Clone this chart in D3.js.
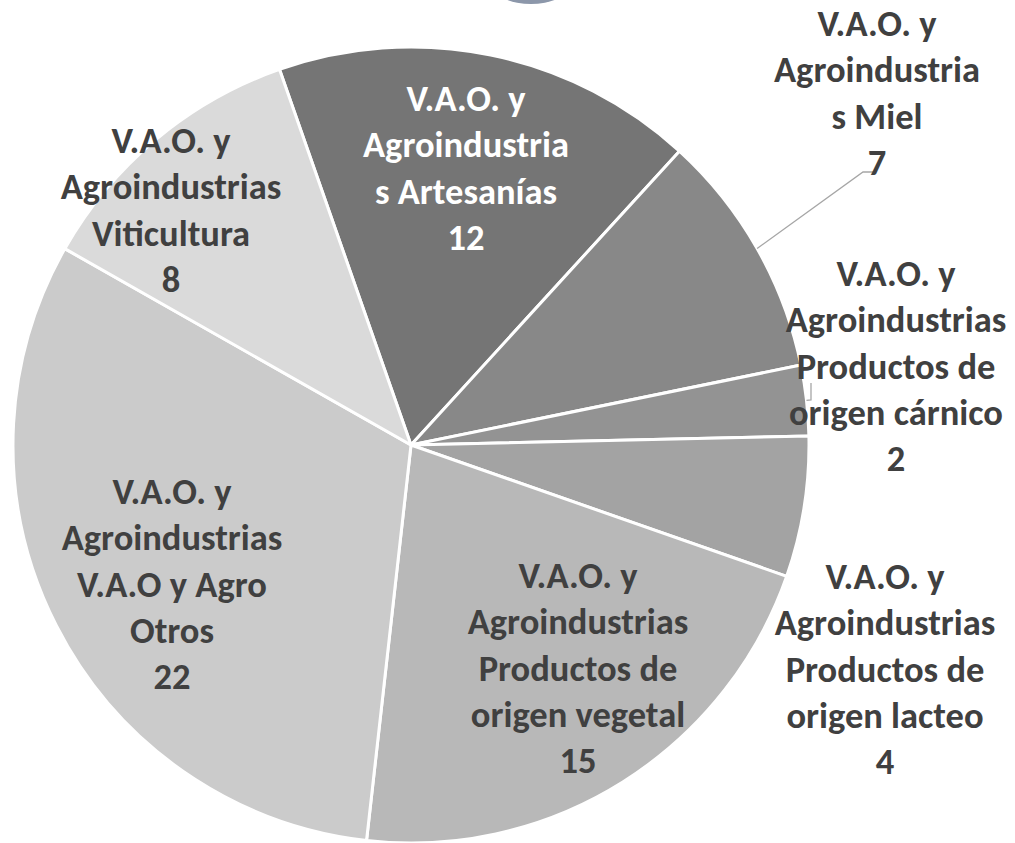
<!DOCTYPE html>
<html>
<head>
<meta charset="utf-8">
<script src="https://cdn.jsdelivr.net/npm/d3@7/dist/d3.min.js"></script>
<style>
  body { margin: 0; background: #fff; }
  svg { display: block; }
  .lbl { font-family: Carlito, Calibri, Lato, sans-serif; font-weight: bold; font-size: 36.5px; }
</style>
</head>
<body>
<svg id="chart" width="1015" height="843"></svg>
<script>
// data
const categories = [
  ["V.A.O. y", "Agroindustria", "s Artesanías"],
  ["V.A.O. y", "Agroindustria", "s Miel"],
  ["V.A.O. y", "Agroindustrias", "Productos de", "origen cárnico"],
  ["V.A.O. y", "Agroindustrias", "Productos de", "origen lacteo"],
  ["V.A.O. y", "Agroindustrias", "Productos de", "origen vegetal"],
  ["V.A.O. y", "Agroindustrias", "V.A.O y Agro", "Otros"],
  ["V.A.O. y", "Agroindustrias", "Viticultura"]
];
const values = [12, 7, 2, 4, 15, 22, 8];
const colors = ["#757575", "#888888", "#939393", "#a3a3a3", "#b8b8b8", "#cbcbcb", "#dadada"];
const textColors = ["#ffffff", "#404040", "#404040", "#404040", "#404040", "#404040", "#404040"];
// first-baseline anchor of each label
const labelPos = [[466, 111], [877, 36], [896, 286], [885, 589], [578, 588], [172, 504], [171, 153]];
const lineGap = 46.3;

const svg = d3.select("#chart");
const cx = 411, cy = 445, radius = 398;
const start = -19.3 * Math.PI / 180;

// stray badge edge peeking in at the top
svg.append("circle").attr("cx", 531).attr("cy", -67).attr("r", 71).attr("fill", "#8c97aa");

const pie = d3.pie().sort(null).startAngle(start).endAngle(start + 2 * Math.PI);
const arc = d3.arc().innerRadius(0).outerRadius(radius);
const arcs = pie(values);

const g = svg.append("g").attr("transform", `translate(${cx},${cy})`);
g.selectAll("path")
  .data(arcs)
  .join("path")
  .attr("d", arc)
  .attr("fill", (d, i) => colors[i])
  .attr("stroke", "#fff")
  .attr("stroke-width", 3)
  .attr("stroke-linejoin", "round");

// leader lines for the two outside labels
function edgePoint(d) {
  const a = (d.startAngle + d.endAngle) / 2;
  return [cx + radius * Math.sin(a), cy - radius * Math.cos(a)];
}
const leaders = [
  [edgePoint(arcs[1]), [863, 172], [873, 172]],
  [edgePoint(arcs[2]), [811, 400], [811, 383]]
];
svg.selectAll("path.leader")
  .data(leaders)
  .join("path")
  .attr("class", "leader")
  .attr("d", d3.line())
  .attr("fill", "none")
  .attr("stroke", "#a6a6a6")
  .attr("stroke-width", 1.3);

// labels
const labels = svg.selectAll("text.lbl")
  .data(arcs)
  .join("text")
  .attr("class", "lbl")
  .attr("text-anchor", "middle")
  .attr("fill", (d, i) => textColors[i]);
labels.each(function (d, i) {
  const t = d3.select(this);
  const lines = categories[i].concat([String(values[i])]);
  lines.forEach((s, k) => {
    t.append("tspan")
      .attr("x", labelPos[i][0])
      .attr("y", labelPos[i][1] + k * lineGap)
      .text(s);
  });
});
</script>
</body>
</html>
